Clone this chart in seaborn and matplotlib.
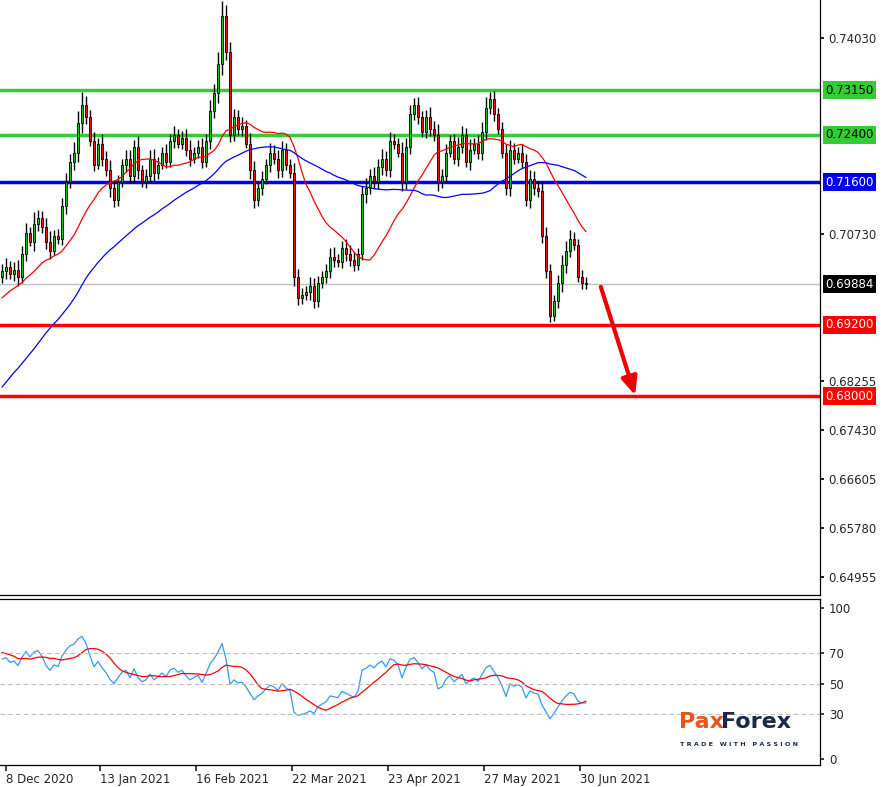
import numpy as np
import pandas as pd
import matplotlib
matplotlib.use("Agg")
import matplotlib.pyplot as plt
import matplotlib.transforms as mtrans
import seaborn as sns

sns.set_theme(style="white")
plt.rcParams['font.family'] = ['DejaVu Sans']

# history before visible window (off-screen, used for moving averages)
history = [0.660,0.662,0.658,0.661,0.664,0.663,0.667,0.665,0.668,0.666,
           0.663,0.661,0.665,0.669,0.672,0.670,0.674,0.676,0.673,0.671,
           0.668,0.670,0.674,0.678,0.680,0.683,0.681,0.684,0.686,0.685,
           0.688,0.690,0.689,0.692,0.691,0.694,0.693,0.695,0.697,0.696,
           0.694,0.697,0.699,0.698,0.700,0.702,0.699,0.701,0.703,0.700]

closes = [0.7010,0.7018,0.7005,0.7012,0.7000,
          0.7040,0.7075,0.7060,0.7090,0.7100,0.7085,
          0.7060,0.7045,0.7070,0.7065,
          0.7120,0.7160,0.7195,0.7210,0.7260,
          0.7290,0.7270,0.7230,
          0.7190,0.7225,0.7200,0.7180,0.7150,
          0.7130,0.7160,0.7190,0.7200,0.7170,
          0.7220,0.7180,0.7160,0.7170,0.7200,0.7175,0.7190,0.7210,
          0.7195,0.7230,0.7240,0.7225,0.7235,0.7215,0.7200,0.7210,0.7220,
          0.7195,0.7230,0.7280,0.7310,0.7360,
          0.7440,0.7380,0.7240,
          0.7270,0.7250,0.7255,0.7225,0.7180,0.7130,
          0.7150,0.7165,0.7190,0.7210,0.7200,0.7180,0.7215,0.7190,0.7175,
          0.7000,0.6965,0.6970,0.6975,0.6985,0.6960,0.6990,
          0.7000,0.7010,0.7035,0.7030,0.7025,0.7050,0.7040,0.7030,0.7020,0.7040,
          0.7140,0.7150,0.7170,0.7160,0.7185,0.7200,0.7180,0.7230,0.7225,0.7210,
          0.7160,0.7220,0.7275,0.7290,0.7270,0.7245,0.7270,0.7250,0.7240,0.7160,
          0.7170,0.7210,0.7230,0.7200,0.7220,0.7240,0.7195,0.7215,0.7225,0.7210,
          0.7245,0.7285,0.7300,0.7275,0.7250,
          0.7210,0.7150,0.7215,0.7200,0.7210,
          0.7195,0.7130,0.7165,0.7150,0.7145,
          0.7070,0.7010,0.6935,0.6960,0.6990,
          0.7020,0.7045,0.7065,0.7055,0.7000,0.6990,0.6988]

wick_pips = [12,15,10,14,18,12,16,10,20,14,12,15,18,10,12,14,16,12,18,20,
             22,15,12,14,10,16,12,18,14,12,10,15,14,12,18,10,12,14,16,12,
             10,14,12,15,10,12,14,16,10,12,14,12,18,15,20,25,18,16,14,12,
             15,10,18,16,12,14,10,16,12,15,14,12,10,18,14,12,10,16,14,12,
             10,12,14,16,10,12,15,14,12,10,14,18,12,15,14,16,12,14,12,10,
             18,14,16,12,14,10,12,16,14,18,12,14,10,12,16,14,12,18,10,14,
             16,18,12,14,10,12,14,16,12,10,14,12,16,14,12,16,14,12,10,14,
             18,16,14,12,10,12,10]

levels_green = [0.7315, 0.7240]
level_blue = 0.7160
levels_red = [0.6920, 0.6800]
level_last = 0.69884
price_ticks = [0.74030, 0.70730, 0.68255, 0.67430, 0.66605, 0.65780, 0.64955]
date_labels = ["8 Dec 2020", "13 Jan 2021", "16 Feb 2021", "22 Mar 2021",
               "23 Apr 2021", "27 May 2021", "30 Jun 2021"]
date_pos = [1, 24.5, 48.5, 72.5, 96.5, 120.5, 144.5]

allc = np.array(history + closes)
nh = len(history)
idx = np.arange(len(allc)) - nh
df = pd.DataFrame({"i": idx, "close": allc})
df["open"] = df["close"].shift(1).fillna(df["close"])
df["ma20"] = df["close"].rolling(20).mean()
df["ma50"] = df["close"].rolling(50).mean()
d = df["close"].diff()
up = d.clip(lower=0).ewm(alpha=1/14, adjust=False).mean()
dn = (-d.clip(upper=0)).ewm(alpha=1/14, adjust=False).mean()
df["rsi"] = 100 - 100 / (1 + up / dn)
df["rsima"] = df["rsi"].rolling(9).mean()
vis = df[df["i"] >= 0].reset_index(drop=True)
vis["wick"] = np.array(wick_pips) / 10000.0

fig = plt.figure(figsize=(8.84, 7.87), dpi=100)
W, H = 884, 787
ax = fig.add_axes([0, 1 - 595 / H, 820 / W, 595 / H])
ax2 = fig.add_axes([0, 1 - 765 / H, 820 / W, 166 / H])

# candles
bull = vis["close"] >= vis["open"]
hi = np.maximum(vis["open"], vis["close"]) + vis["wick"]
lo = np.minimum(vis["open"], vis["close"]) - vis["wick"] * 0.8
ax.vlines(vis["i"], lo, hi, color="black", lw=1, zorder=3)
body = (vis["close"] - vis["open"]).abs().clip(lower=0.00012)
ax.bar(vis["i"], body, bottom=np.minimum(vis["open"], vis["close"]), width=0.7,
       color=np.where(bull, "#22bb22", "#ee1111"), edgecolor="black", lw=0.6, zorder=4)

sns.lineplot(data=vis, x="i", y="ma20", ax=ax, color="red", lw=0.9, zorder=5)
sns.lineplot(data=vis, x="i", y="ma50", ax=ax, color="blue", lw=0.9, zorder=5)

for lv in levels_green:
    ax.axhline(lv, color="#33cc33", lw=2.5, zorder=2)
ax.axhline(level_blue, color="#0000ee", lw=2.5, zorder=2)
for lv in levels_red:
    ax.axhline(lv, color="#ff0000", lw=2.5, zorder=2)
ax.axhline(level_last, color="#c0c0c0", lw=1, zorder=1)

ax.annotate("", xy=(158.5, 0.6797), xytext=(149.5, level_last),
            arrowprops=dict(arrowstyle="-|>,head_length=0.9,head_width=0.4",
                            color="#ee0000", lw=3), zorder=6)

ax.set_xlim(-0.5, 204.5)
ax.set_ylim(0.64651, 0.7467)
ax.yaxis.tick_right()
ax.set_yticks(price_ticks)
ax.set_yticklabels([f"{t:.5f}" for t in price_ticks], fontsize=8.5)
ax.tick_params(axis="y", length=3, color="black", pad=3, right=True)
ax.set_xticks([])
ax.set_xlabel(""); ax.set_ylabel("")
for s in ["top", "left"]:
    ax.spines[s].set_visible(False)
for s in ["right", "bottom"]:
    ax.spines[s].set_color("black")
    ax.spines[s].set_linewidth(0.9)

tr = mtrans.blended_transform_factory(ax.transAxes, ax.transData)
boxes = [(levels_green[0], "#33cc33", "black"), (levels_green[1], "#33cc33", "black"),
         (level_blue, "#0000ee", "white"), (levels_red[0], "#ff0000", "white"),
         (levels_red[1], "#ff0000", "white"), (level_last, "black", "white")]
for lv, fc, tc in boxes:
    ax.text(1.007, lv, f"{lv:.5f}", transform=tr, fontsize=8.5, color=tc, va="center",
            ha="left", bbox=dict(boxstyle="square,pad=0.2", fc=fc, ec="none"), zorder=10,
            clip_on=False)

# RSI panel
sns.lineplot(data=vis, x="i", y="rsi", ax=ax2, color="#3399ff", lw=0.9)
sns.lineplot(data=vis, x="i", y="rsima", ax=ax2, color="red", lw=0.9)
for lv in [70, 50, 30]:
    ax2.axhline(lv, color="#bbbbbb", lw=0.8, ls=(0, (4, 3)))
ax2.set_xlim(-0.5, 204.5)
ax2.set_ylim(-4, 106)
ax2.yaxis.tick_right()
ax2.set_yticks([0, 30, 50, 70, 100])
ax2.tick_params(axis="y", labelsize=8.5, length=3, right=True)
ax2.set_xticks(date_pos)
ax2.set_xticklabels(date_labels, fontsize=8.5, ha="left")
ax2.tick_params(axis="x", length=4, bottom=True, pad=2)
ax2.set_xlabel(""); ax2.set_ylabel("")
ax2.spines["left"].set_visible(False)
for s in ["right", "bottom", "top"]:
    ax2.spines[s].set_color("black")
    ax2.spines[s].set_linewidth(0.9)

# logo
fig.text(679 / W, 1 - 722 / H, "Pax", color="#e8561c", fontsize=16, fontweight="bold", va="center")
fig.text(721 / W, 1 - 722 / H, "Forex", color="#1b2a4a", fontsize=16, fontweight="bold", va="center")
fig.text(680 / W, 1 - 744 / H, "T R A D E   W I T H   P A S S I O N", color="#1b2a4a",
         fontsize=4.6, fontweight="bold", va="center")

fig.savefig("out.png", dpi=100)
